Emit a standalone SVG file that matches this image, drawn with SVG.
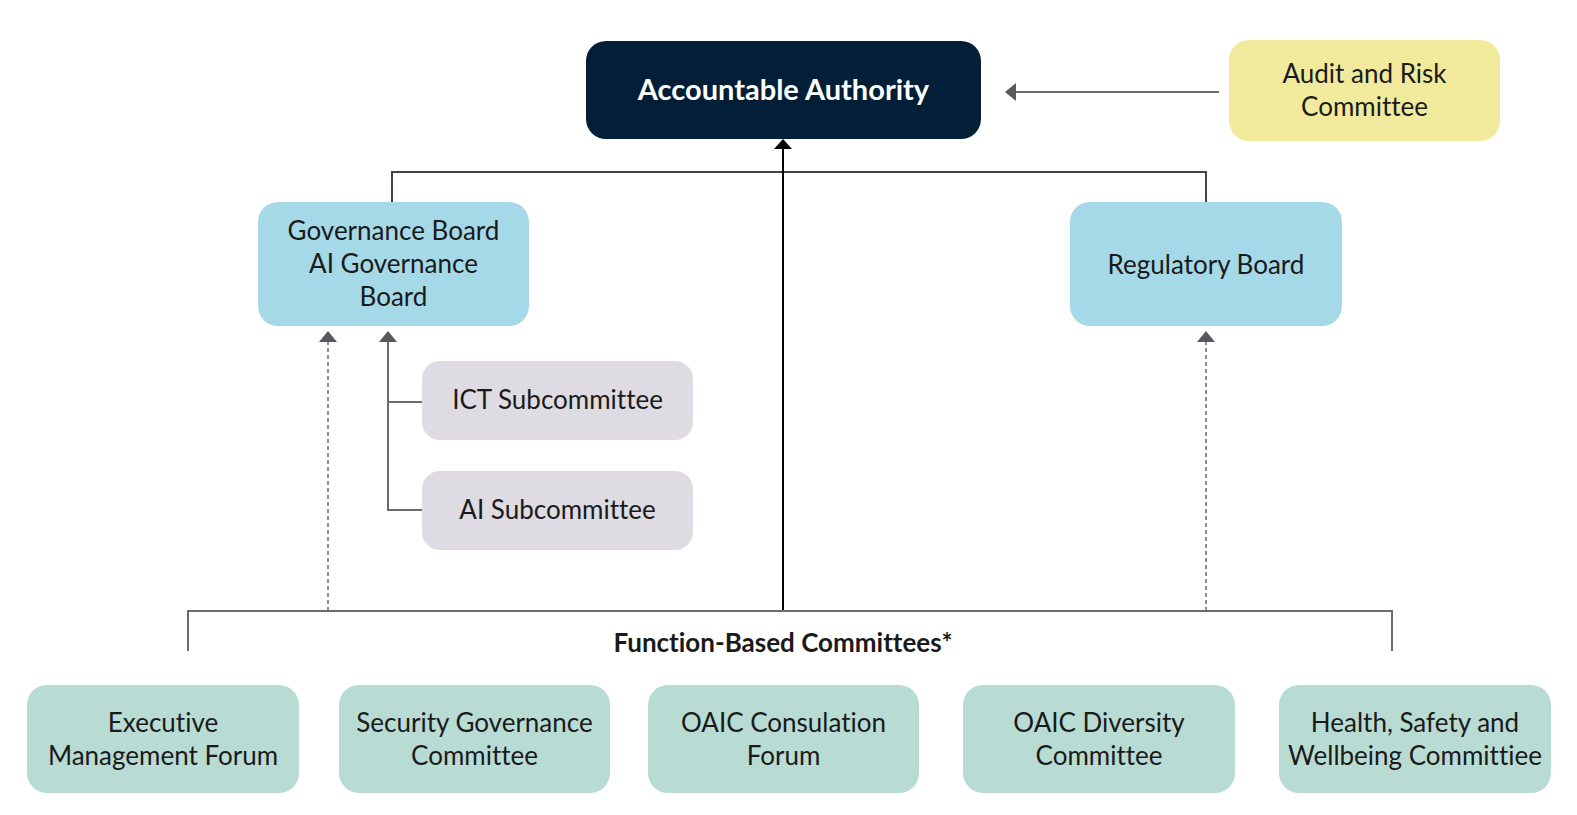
<svg xmlns="http://www.w3.org/2000/svg" width="1577" height="815" viewBox="0 0 1577 815">
<defs>
<style>
text{font-family:Lato,"Liberation Sans",sans-serif;font-size:26px;fill:#1a1a1a;text-anchor:middle;font-variant-ligatures:none}
.aa{fill:#031f37}
.blue{fill:#a5d9e8}
.audit{fill:#f1ea9c}
.sub{fill:#dfdbe2}
.fn{fill:#b8dcd4}
.ln{fill:none;stroke:#444;stroke-width:2}
.gl{fill:none;stroke:#6b6b70;stroke-width:2}
.dash{fill:none;stroke:#6b6b70;stroke-width:1.5;stroke-dasharray:4 3}
</style>
</defs>
<rect width="1577" height="815" fill="#fff"/>
<g id="connectors">
<path class="ln" d="M392,202 V172 H1206 V202"/>
<path d="M783,611 V148" stroke="#000" stroke-width="2" fill="none"/>
<polygon points="783,139 774,149 792,149" fill="#000"/>
<path class="gl" d="M1219,92 H1016"/>
<polygon points="1005,92 1016,83 1016,101" fill="#58595f"/>
<path class="gl" d="M188,651 V611 H1392 V651"/>
<path class="dash" d="M328,611 V342"/>
<polygon points="328,331 319,342 337,342" fill="#58595f"/>
<path class="dash" d="M1206,611 V342"/>
<polygon points="1206,331 1197,342 1215,342" fill="#58595f"/>
<path class="gl" d="M422,402 H388 M422,510 H388 V342"/>
<polygon points="388,331 379,342 397,342" fill="#58595f"/>
</g>
<g id="accountable-authority">
<rect class="aa" x="586" y="41" width="395" height="98" rx="20"/>
<text x="783.5" y="100" style="fill:#fff;font-weight:bold;font-size:29px">Accountable Authority</text>
</g>
<g id="audit-risk">
<rect class="audit" x="1229" y="40" width="271" height="101" rx="20"/>
<text x="1364.5" y="83">Audit and Risk</text>
<text x="1364.5" y="116">Committee</text>
</g>
<g id="governance-board">
<rect class="blue" x="258" y="202" width="271" height="124" rx="20"/>
<text x="393.5" y="240">Governance Board</text>
<text x="393.5" y="273">AI Governance</text>
<text x="393.5" y="306">Board</text>
</g>
<g id="regulatory-board">
<rect class="blue" x="1070" y="202" width="272" height="124" rx="20"/>
<text x="1206" y="274">Regulatory Board</text>
</g>
<g id="ict-subcommittee">
<rect class="sub" x="422" y="361" width="271" height="79" rx="18"/>
<text x="557.5" y="409">ICT Subcommittee</text>
</g>
<g id="ai-subcommittee">
<rect class="sub" x="422" y="471" width="271" height="79" rx="18"/>
<text x="557.5" y="519">AI Subcommittee</text>
</g>
<g id="function-label">
<text x="783" y="652" style="font-weight:bold;font-size:26px">Function-Based Committees*</text>
</g>
<g id="executive-management-forum">
<rect class="fn" x="27" y="685" width="272" height="108" rx="20"/>
<text x="163" y="732">Executive</text>
<text x="163" y="765">Management Forum</text>
</g>
<g id="security-governance-committee">
<rect class="fn" x="339" y="685" width="271" height="108" rx="20"/>
<text x="474.5" y="732">Security Governance</text>
<text x="474.5" y="765">Committee</text>
</g>
<g id="oaic-consulation-forum">
<rect class="fn" x="648" y="685" width="271" height="108" rx="20"/>
<text x="783.5" y="732">OAIC Consulation</text>
<text x="783.5" y="765">Forum</text>
</g>
<g id="oaic-diversity-committee">
<rect class="fn" x="963" y="685" width="272" height="108" rx="20"/>
<text x="1099" y="732">OAIC Diversity</text>
<text x="1099" y="765">Committee</text>
</g>
<g id="health-safety-wellbeing">
<rect class="fn" x="1279" y="685" width="272" height="108" rx="20"/>
<text x="1415" y="732">Health, Safety and</text>
<text x="1415" y="765">Wellbeing Committiee</text>
</g>
</svg>
